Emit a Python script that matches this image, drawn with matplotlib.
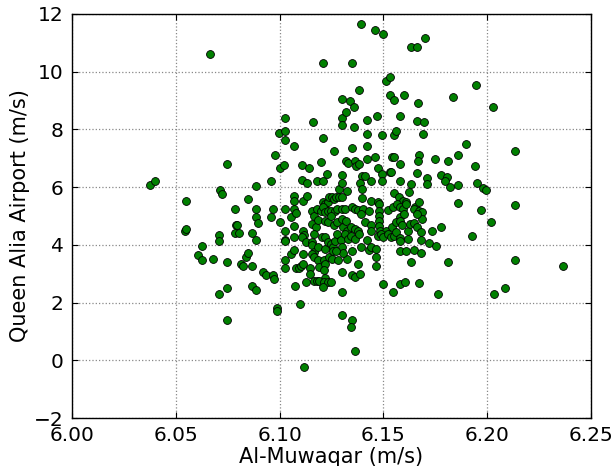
import matplotlib
matplotlib.use("Agg")
import matplotlib.pyplot as plt

# outer / sparse points
muwaqar_outer = [6.0376, 6.040, 6.0667, 6.055, 6.0545, 6.0549, 6.0607, 6.0626, 6.0628, 6.0679,
                 6.0707, 6.0709, 6.0707, 6.0714, 6.0724, 6.0746, 6.0746, 6.0746, 6.0746, 6.0786,
                 6.0790, 6.0784, 6.0805, 6.0795, 6.0814, 6.0823, 6.0840, 6.0850, 6.0850, 6.0867,
                 6.0867, 6.0867, 6.0885, 6.0885, 6.0885, 6.0885, 6.0887, 6.0897, 6.0921, 6.0934,
                 6.0959, 6.0959, 6.0970, 6.0970, 6.0972, 6.0977, 6.0985, 6.0985, 6.0996, 6.1000,
                 6.1000, 6.1023, 6.1024, 6.1024, 6.1024, 6.1024, 6.1024, 6.1024, 6.1028, 6.1024,
                 6.1024, 6.1056, 6.1070, 6.1053, 6.1070, 6.1070, 6.1070, 6.1077, 6.1070, 6.1070,
                 6.1070, 6.1075, 6.1079, 6.1092, 6.1103, 6.1100, 6.1110, 6.1110, 6.1111, 6.1111,
                 6.1117, 6.1107, 6.1111, 6.1111, 6.1115, 6.1130, 6.1132, 6.1140, 6.1126, 6.1145,
                 6.1145, 6.1160, 6.1180, 6.1197, 6.1210, 6.1210, 6.1210, 6.1226, 6.1260, 6.1286,
                 6.1300, 6.1300, 6.1300, 6.1300, 6.1300, 6.1300, 6.1300, 6.1300, 6.1321, 6.1321,
                 6.1328, 6.1325, 6.1325, 6.1340, 6.1350, 6.1350, 6.1360, 6.1360, 6.1361, 6.1366,
                 6.1350, 6.1350, 6.1361, 6.1350, 6.1346, 6.1361, 6.1380, 6.1380, 6.1393, 6.1395,
                 6.1387, 6.1420, 6.1420, 6.1420, 6.1423, 6.1457, 6.1457, 6.1470, 6.1476, 6.1492,
                 6.1500, 6.1510, 6.1530, 6.1530, 6.1550, 6.1553, 6.1560, 6.1541, 6.1549, 6.1532,
                 6.1536, 6.1600, 6.1580, 6.1580, 6.1580, 6.1635, 6.1660, 6.1665, 6.1660, 6.1694,
                 6.1690, 6.1700, 6.1671, 6.1665, 6.1660, 6.1635, 6.1622, 6.1711, 6.1711, 6.1748,
                 6.1735, 6.1720, 6.1754, 6.1776, 6.1765, 6.1778, 6.1804, 6.1795, 6.1810, 6.1810,
                 6.1823, 6.1835, 6.1857, 6.1857, 6.1857, 6.1900, 6.1925, 6.1940, 6.1945, 6.1950,
                 6.1970, 6.1980, 6.1996, 6.2020, 6.2030, 6.2032, 6.2086, 6.2135, 6.2135, 6.2135,
                 6.2365, 6.1494, 6.1494, 6.1438, 6.1410]
alia_outer = [6.09, 6.21, 10.60, 5.52, 4.49, 4.54, 3.65, 3.97, 3.47, 3.51,
              2.30, 4.34, 4.15, 5.90, 5.76, 6.80, 3.41, 2.49, 1.41, 5.25,
              4.70, 4.41, 4.41, 4.70, 3.34, 3.26, 3.57, 3.71, 5.58, 4.41,
              3.26, 2.57, 2.44, 6.04, 5.25, 4.95, 4.18, 4.75, 3.05, 2.96,
              6.21, 4.95, 5.25, 2.96, 2.83, 7.11, 1.82, 1.72, 7.87, 4.79,
              6.68, 6.75, 8.40, 7.95, 7.65, 5.25, 4.49, 4.17, 4.12, 3.48,
              3.21, 4.95, 7.44, 3.69, 5.70, 5.53, 5.24, 5.09, 4.67, 4.26,
              3.82, 2.57, 3.21, 3.20, 3.26, 1.94, 6.76, 6.26, 5.53, 4.49,
              4.35, 4.26, 3.69, 3.34, -0.25, 6.15, 5.70, 6.68, 2.70, 3.21,
              3.00, 8.25, 6.20, 6.87, 7.70, 10.31, 6.22, 6.45, 7.26, 5.93,
              9.05, 8.39, 8.15, 6.42, 6.14, 3.05, 2.37, 1.56, 8.61, 6.91,
              6.84, 5.88, 3.51, 8.99, 7.34, 10.31, 8.78, 8.09, 6.91, 6.72,
              3.80, 2.94, 2.88, 1.41, 1.14, 0.32, 9.38, 6.80, 11.64, 6.40,
              6.15, 7.43, 6.97, 8.34, 7.83, 11.43, 7.03, 8.47, 6.68, 7.79,
              11.29, 9.68, 9.82, 9.18, 9.03, 7.79, 7.95, 7.06, 7.06, 6.54,
              6.54, 9.18, 8.47, 6.80, 6.22, 10.85, 10.85, 8.93, 8.29, 8.27,
              7.83, 11.17, 7.12, 6.91, 6.49, 6.10, 5.83, 6.30, 6.10, 6.97,
              4.49, 4.06, 3.97, 4.61, 2.30, 6.43, 6.34, 6.22, 6.91, 3.41,
              5.99, 9.11, 7.12, 6.09, 5.44, 7.49, 4.30, 6.73, 9.54, 6.15,
              5.21, 5.98, 5.90, 4.80, 8.78, 2.28, 2.49, 7.24, 5.37, 3.46,
              3.26, 6.45, 6.22, 6.22, 6.39]

# dense cluster points
muwaqar_core = [6.1207, 6.1220, 6.1235, 6.1239, 6.1250, 6.1261, 6.1270, 6.1284, 6.1299, 6.1395,
                6.1395, 6.1438, 6.1476, 6.1551, 6.1575, 6.1592, 6.1607, 6.1654,
                6.1158, 6.1164, 6.1179, 6.1197, 6.1207, 6.1220, 6.1235, 6.1248, 6.1267, 6.1276,
                6.1299, 6.1314, 6.1350, 6.1363, 6.1378, 6.1400, 6.1429, 6.1477, 6.1477, 6.1477,
                6.1523, 6.1547, 6.1564, 6.1579, 6.1592, 6.1609, 6.1645, 6.1669, 6.1673, 6.1688,
                6.1579, 6.1598, 6.1684, 6.1660,
                6.1158, 6.1175, 6.1164, 6.1186, 6.1220, 6.1231, 6.1248, 6.1261, 6.1276, 6.1299,
                6.1305, 6.1318, 6.1325, 6.1344, 6.1363, 6.1376, 6.1391, 6.1410, 6.1438, 6.1442,
                6.1477, 6.1477, 6.1485, 6.1513, 6.1541, 6.1560, 6.1579, 6.1588, 6.1617, 6.1626,
                6.1645, 6.1660, 6.1682,
                6.1126, 6.1158, 6.1158, 6.1164, 6.1186, 6.1205, 6.1220, 6.1220, 6.1231, 6.1248,
                6.1258, 6.1267, 6.1276, 6.1295, 6.1299, 6.1303, 6.1314, 6.1327, 6.1344, 6.1363,
                6.1382, 6.1391, 6.1419, 6.1429, 6.1438, 6.1466, 6.1476, 6.1489, 6.1500, 6.1523,
                6.1538, 6.1551, 6.1560, 6.1579, 6.1579, 6.1579, 6.1607, 6.1617, 6.1645, 6.1682,
                6.1682,
                6.1158, 6.1164, 6.1186, 6.1192, 6.1216, 6.1220, 6.1216, 6.1220, 6.1239, 6.1254,
                6.1258, 6.1272, 6.1280, 6.1376, 6.1387, 6.1462, 6.1466, 6.1164, 6.1179, 6.1192,
                6.1212, 6.1231, 6.1248, 6.1209, 6.1500, 6.1547, 6.1579, 6.1603, 6.1635, 6.1669]
alia_core = [5.47, 5.41, 5.47, 5.65, 5.67, 5.58, 5.67, 5.67, 5.65, 5.62,
             5.93, 5.53, 5.47, 5.78, 5.65, 5.53, 5.47, 5.30,
             5.18, 5.01, 5.24, 5.16, 5.30, 5.13, 5.16, 5.18, 5.18, 5.24,
             5.24, 5.24, 5.30, 5.24, 5.21, 5.24, 5.18, 5.41, 5.18, 5.01,
             5.21, 5.30, 5.41, 5.30, 5.24, 5.41, 5.24, 5.47, 5.18, 5.13,
             4.98, 5.07, 4.90, 5.07,
             4.72, 4.61, 4.38, 4.86, 4.84, 4.78, 5.01, 4.70, 4.78, 4.90,
             4.61, 4.84, 4.49, 4.61, 4.55, 4.49, 5.07, 4.78, 4.70, 4.49,
             4.84, 4.67, 4.49, 4.49, 4.61, 4.78, 4.84, 4.70, 4.49, 4.72,
             4.75, 4.61, 4.44,
             4.09, 4.11, 4.00, 3.74, 3.92, 4.26, 4.26, 3.86, 4.09, 4.03,
             3.92, 4.15, 4.38, 4.17, 3.92, 3.73, 4.38, 4.21, 4.32, 4.21,
             4.38, 3.92, 4.17, 3.82, 3.92, 3.86, 4.32, 4.38, 4.26, 4.38,
             4.26, 4.29, 4.44, 4.24, 4.12, 3.80, 3.78, 4.21, 3.82, 4.17,
             3.72,
             3.69, 3.58, 3.46, 3.23, 3.46, 3.34, 3.13, 2.86, 3.57, 3.51,
             3.78, 3.80, 3.46, 3.32, 3.00, 3.57, 3.26, 2.76, 2.76, 2.76,
             2.71, 2.71, 2.71, 2.53, 2.63, 2.38, 2.63, 2.73, 3.41, 2.68]

muwaqar = muwaqar_outer + muwaqar_core
alia = alia_outer + alia_core

fig = plt.figure(figsize=(6.14, 4.66), dpi=100)
ax = fig.add_axes([0.1173, 0.103, 0.8453, 0.867])

ax.scatter(muwaqar, alia, s=32, c="green", edgecolors="black", linewidths=0.6, zorder=3)

ax.set_xlim(6.0, 6.25)
ax.set_ylim(-2, 12)
ax.set_xticks([6.00, 6.05, 6.10, 6.15, 6.20, 6.25])
ax.set_xticklabels(["6.00", "6.05", "6.10", "6.15", "6.20", "6.25"])
ax.set_yticks([-2, 0, 2, 4, 6, 8, 10, 12])
ax.set_yticklabels(["\u22122", "0", "2", "4", "6", "8", "10", "12"])
ax.grid(True, linestyle=":", color="#888888", linewidth=0.9)
ax.tick_params(direction="in", top=True, right=True, labelsize=14.5, length=4, pad=6)
for sp in ax.spines.values():
    sp.set_linewidth(1.0)

ax.set_xlabel("Al-Muwaqar (m/s)", fontsize=15, labelpad=1)
ax.set_ylabel("Queen Alia Airport (m/s)", fontsize=15, labelpad=3)

fig.savefig("out.png", dpi=100)
